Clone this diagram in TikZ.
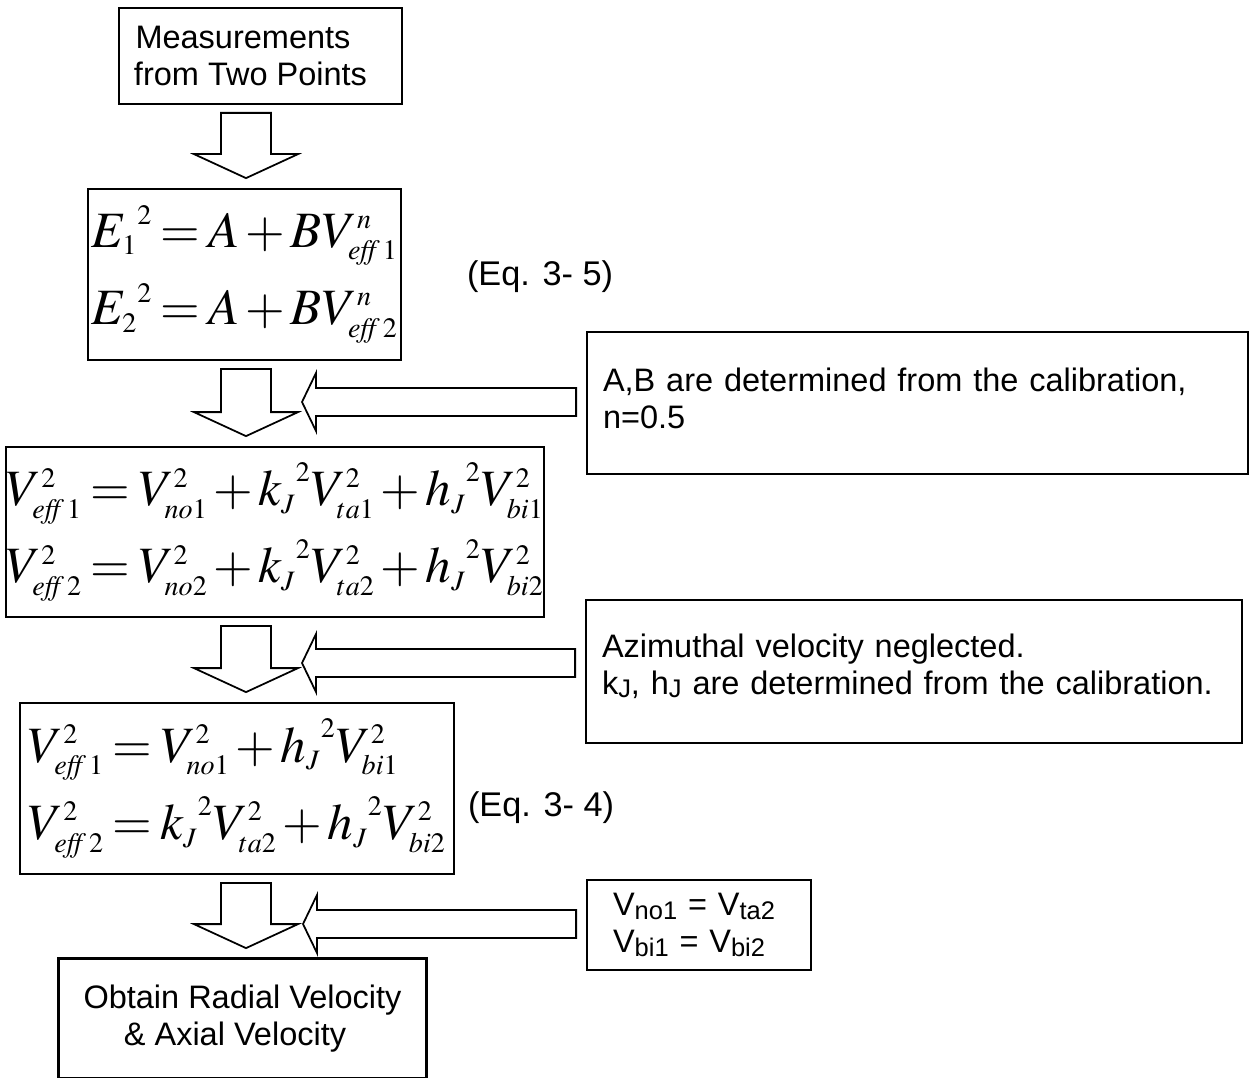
\documentclass[tikz,border=0pt]{standalone}
\usepackage{mathptmx}
\usepackage{fontspec}
\setmainfont{Liberation Sans}
\usetikzlibrary{calc}

\def\px{0.02cm}
\DeclareMathSizes{29}{29}{16}{11}
\newcommand{\txtsize}{\fontsize{18.5}{21}\selectfont}
\newcommand{\eqsize}{\fontsize{29}{44}\selectfont\thickmuskip=3mu\medmuskip=2mu}
\newcommand{\lowtxt}[1]{\raisebox{-0.2ex}{\fontsize{14.5}{14.5}\selectfont #1}}

\tikzset{
  box/.style={draw, line width=1pt, align=center, inner sep=0pt, font=\txtsize},
  eqbox/.style={draw, line width=1pt, align=left, inner sep=0pt, font=\eqsize},
  note/.style={draw, line width=1pt, align=left, inner ysep=0pt, font=\txtsize},
  blockline/.style={draw, line width=1pt, line join=miter, fill=white},
}

% hollow arrow pointing down, from under #1 to above #2
\newcommand{\downblock}[2]{%
  \draw[blockline]
    ($(axis |- #1.south)+(-25,8)$) -- ($(axis |- #1.south)+(25,8)$)
    -- ($(axis |- #2.north)+(25,-34)$) -- ($(axis |- #2.north)+(52,-34)$)
    -- ($(axis |- #2.north)+(0,-10)$) -- ($(axis |- #2.north)+(-52,-34)$)
    -- ($(axis |- #2.north)+(-25,-34)$) -- cycle;}

% hollow arrow pointing left, from note #1 to tip #2
\newcommand{\leftblock}[2]{%
  \draw[blockline]
    ($(#2 -| #1.west)+(-10,-14)$) -- ($(#2)+(14,-14)$) -- ($(#2)+(14,-29)$)
    -- (#2) -- ($(#2)+(14,29)$) -- ($(#2)+(14,14)$)
    -- ($(#2 -| #1.west)+(-10,14)$) -- cycle;}

\begin{document}
\begin{tikzpicture}[x=\px, y=-\px]
  \useasboundingbox (0,0) rectangle (1249,1078);
  \coordinate (axis) at (246,0);
  \coordinate (floor) at (0,1090);

  % main column
  \node[box, minimum width=283*\px, minimum height=96*\px] (meas) at (260.5,56)
    {Measurements\hspace*{0.7cm}\\from Two Points\hspace*{0.4cm}};
  \node[eqbox, minimum width=313*\px, minimum height=171*\px] (hotwire) at (244.5,274.5)
    {${E_1}^2 = A + BV^n_{\mathit{eff}\,1}$\\
     ${E_2}^2 = A + BV^n_{\mathit{eff}\,2}$};
  \node[eqbox, minimum width=536*\px, minimum height=170*\px] (effvel) at (275,532)
    {$V^2_{\mathit{eff}\,1} = V^2_{no1} + {k_J}^2V^2_{ta1} + {h_J}^2V^2_{bi1}$\\
     $V^2_{\mathit{eff}\,2} = V^2_{no2} + {k_J}^2V^2_{ta2} + {h_J}^2V^2_{bi2}$};
  \node[eqbox, minimum width=434*\px, minimum height=171*\px] (reduced) at (237,788.5)
    {$V^2_{\mathit{eff}\,1} = V^2_{no1} + {h_J}^2V^2_{bi1}$\\
     $V^2_{\mathit{eff}\,2} = {k_J}^2V^2_{ta2} + {h_J}^2V^2_{bi2}$};
  \node[box, minimum width=367*\px, minimum height=119*\px] (result) at (242.5,1018.5)
    {Obtain Radial Velocity\\\& Axial Velocity\hspace*{0.3cm}};
  \draw[line width=1pt] (floor -| result.west) |- (result.north east) -- (floor -| result.east);

  % equation numbers
  \node[font=\fontsize{19.5}{22}\selectfont] (eqA) at (540,277) {(Eq. 3- 5)};
  \node[font=\fontsize{19.5}{22}\selectfont] (eqB) at (541,808) {(Eq. 3- 4)};

  % side notes
  \node[note, minimum width=661*\px, minimum height=142*\px, inner xsep=16*\px,
        text width=629*\px] (calAB) at (917.5,403)
    {A,B are determined from the calibration,\\n=0.5\rule[-0.2cm]{0pt}{0pt}};
  \node[note, minimum width=656*\px, minimum height=143*\px, inner xsep=16*\px,
        text width=624*\px] (calkh) at (914,671.5)
    {Azimuthal velocity neglected.\\k\lowtxt{J}, h\lowtxt{J} are determined from the calibration.\rule[-0.3cm]{0pt}{0pt}};
  \node[note, minimum width=224*\px, minimum height=90*\px, inner xsep=26*\px,
        text width=172*\px] (equal) at (699,925)
    {V\lowtxt{no1} = V\lowtxt{ta2}\\V\lowtxt{bi1} = V\lowtxt{bi2}};

  % arrows
  \coordinate (tipA) at (302,402);
  \coordinate (tipB) at (302,663);
  \coordinate (tipC) at (303,924);
  \downblock{meas}{hotwire}
  \downblock{hotwire}{effvel}
  \downblock{effvel}{reduced}
  \downblock{reduced}{result}
  \leftblock{calAB}{tipA}
  \leftblock{calkh}{tipB}
  \leftblock{equal}{tipC}
\end{tikzpicture}
\end{document}
